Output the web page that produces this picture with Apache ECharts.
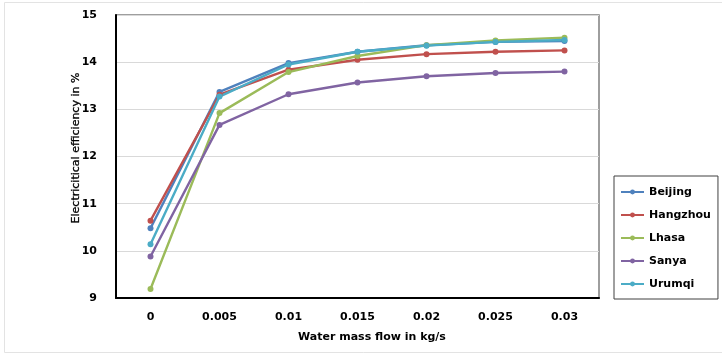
<!DOCTYPE html>
<html>
<head>
<meta charset="utf-8">
<script src="https://cdn.jsdelivr.net/npm/echarts@6/dist/echarts.min.js"></script>
<style>html,body{margin:0;padding:0;background:#fff}#c{width:722px;height:354px}</style>
</head>
<body>
<div id="c"></div>
<script>
const categories = ['0', '0.005', '0.01', '0.015', '0.02', '0.025', '0.03'];
const beijing  = [10.48, 13.37, 13.98, 14.22, 14.36, 14.43, 14.45];
const hangzhou = [10.64, 13.31, 13.84, 14.05, 14.17, 14.22, 14.25];
const lhasa    = [9.19, 12.92, 13.79, 14.13, 14.36, 14.46, 14.52];
const sanya    = [9.88, 12.67, 13.32, 13.57, 13.70, 13.77, 13.80];
const urumqi   = [10.14, 13.27, 13.95, 14.22, 14.35, 14.43, 14.47];
const seriesNames = ['Beijing', 'Hangzhou', 'Lhasa', 'Sanya', 'Urumqi'];
const seriesData = [beijing, hangzhou, lhasa, sanya, urumqi];
const colors = ['#4F81BD', '#C0504D', '#9BBB59', '#8064A2', '#4BACC6'];
const yTitle = 'Electricitical efficiency in %';
const xTitle = 'Water mass flow in kg/s';

const font = 'DejaVu Sans';
const chart = echarts.init(document.getElementById('c'), null, {renderer: 'canvas'});
chart.setOption({
  animation: false,
  color: colors,
  grid: {left: 116, right: 123, top: 15, bottom: 56, show: true, borderColor: '#7f7f7f', borderWidth: 1.5},
  xAxis: {
    type: 'category', data: categories, boundaryGap: true,
    axisLine: {lineStyle: {color: '#000', width: 2}},
    axisTick: {show: false},
    axisLabel: {fontFamily: font, fontWeight: 'bold', fontSize: 11, color: '#000', margin: 14}
  },
  yAxis: {
    type: 'value', min: 9, max: 15, interval: 1,
    axisLine: {show: true, lineStyle: {color: '#000', width: 2}},
    axisTick: {show: false},
    axisLabel: {fontFamily: font, fontWeight: 'bold', fontSize: 11, color: '#000', margin: 19},
    splitLine: {lineStyle: {color: '#d9d9d9', width: 1}}
  },
  legend: {
    orient: 'vertical', left: 614, top: 176,
    padding: [10, 7, 9, 6], itemGap: 11, itemWidth: 23, itemHeight: 6,
    borderColor: '#404040', borderWidth: 1,
    textStyle: {fontFamily: font, fontWeight: 'bold', fontSize: 11, color: '#000', lineHeight: 12},
    data: seriesNames
  },
  series: seriesNames.map((n, i) => ({
    name: n, type: 'line', data: seriesData[i],
    symbol: 'circle', symbolSize: 6,
    lineStyle: {width: 2.4}
  })),
  graphic: [
    {type: 'rect', silent: true, z: -1, shape: {x: 4.5, y: 2.5, width: 800, height: 350}, style: {fill: null, stroke: '#e3e3e3', lineWidth: 1}},
    {type: 'text', x: 76, y: 148, rotation: Math.PI / 2, style: {text: yTitle, fontFamily: font, fontSize: 11, fill: '#000', align: 'center', verticalAlign: 'middle', stroke: '#000', lineWidth: 0.3}},
    {type: 'text', x: 372, y: 337, style: {text: xTitle, fontFamily: font, fontWeight: 'bold', fontSize: 11, fill: '#000', align: 'center', verticalAlign: 'middle'}}
  ]
});
</script>
</body>
</html>
